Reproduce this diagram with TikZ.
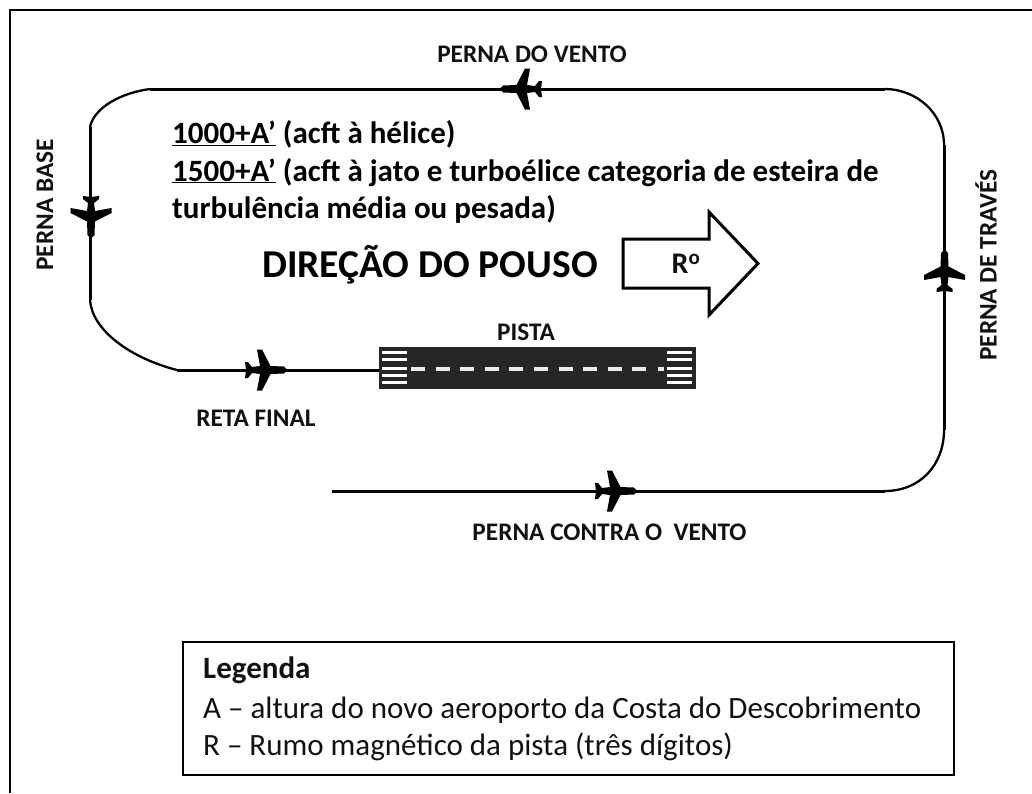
\documentclass[tikz,border=0pt]{standalone}
\usepackage{fontspec}
\setmainfont{Carlito}
\definecolor{ink}{HTML}{111111}
\tikzset{
  lab/.style={inner sep=0pt,text=ink,font=\fontsize{25.3}{30}\selectfont\bfseries},
  head/.style={inner sep=0pt,anchor=base west,text=black,font=\fontsize{31}{36}\selectfont\bfseries},
  big/.style={inner sep=0pt,anchor=base west,text=black,font=\fontsize{39.5}{46}\selectfont\bfseries},
  leg/.style={inner sep=0pt,anchor=base west,text=ink,font=\fontsize{31}{36}\selectfont},
  route/.style={draw=black,line width=3pt},
  turn/.style={draw=black,line width=2.3pt},
  stripe/.style={draw=white,line width=3pt},
  centerdash/.style={draw=white!92!black,line width=3.5pt},
  plane/.pic={
    \fill[black] (19,-1.5) -- (17,-3.5) -- (3.5,-4) -- (-5,-20.5) -- (-10,-20.5) -- (-7,-4)
      -- (-15,-3) -- (-19,-8) -- (-22,-8) -- (-21,0)
      -- (-22,8) -- (-19,8) -- (-15,3) -- (-7,4) -- (-10,20.5) -- (-5,20.5) -- (3.5,4)
      -- (17,3.5) -- (19,1.5) -- cycle;
  }
}
\begin{document}
\begin{tikzpicture}[x=1pt,y=-1pt]
\useasboundingbox (0,0) rectangle (1032,793);
\fill[white] (0,0) rectangle (1032,793);
% outer frame (only top and left are inside the image)
\coordinate (fb) at (10,793);
\coordinate (ft) at (10,9.5);
\coordinate (fr) at (1032,9.5);
\draw[line width=2pt,black] (fb) -- (ft) -- (fr);

% runway
\node[draw=none,fill=black!85,minimum width=317pt,minimum height=42pt,inner sep=0pt] (runway) at (537.5,368) {};
\foreach \yy in {352.3,359.3,368.7,375.7,382.3}{
  \draw[stripe] (382,\yy) -- (407,\yy);
  \draw[stripe] (667,\yy) -- (692,\yy);
}
\foreach \xx in {411,435.6,460.2,484.8,509.4,534,558.6,583.2,607.8,632.4}{
  \draw[centerdash] (\xx,369) -- ++(14,0);
}
\draw[centerdash] (657.5,369) -- (664,369);

% circuit
\coordinate (a1) at (944,145);
\coordinate (a2) at (885,89);
\coordinate (b1) at (150,89);
\coordinate (b2) at (90,127);
\coordinate (c1) at (90,300);
\coordinate (c2) at (177,370);
\coordinate (d1) at (944,430);
\coordinate (d2) at (885,491);
\coordinate (d3) at (332,491);
\draw[route] (a2) -- (b1);
\draw[turn] (b1) .. controls (120,93) and (94,108) .. (b2);
\draw[route] (b2) -- (c1);
\draw[turn] (c1) .. controls (92,330) and (130,358) .. (c2);
\draw[route] (c2) -- (runway.west |- c2);
\draw[turn] (a2) .. controls (915,89) and (944,112) .. (a1);
\draw[route] (a1) -- (d1);
\draw[turn] (d1) .. controls (944,465) and (920,491) .. (d2);
\draw[route] (d2) -- (d3);

% aircraft
\pic[rotate=180] at (520,89) {plane};
\pic[rotate=-90] at (91,218) {plane};
\pic at (267,370) {plane};
\pic[rotate=90] at (944.5,270) {plane};
\pic at (617,491) {plane};

% direction arrow
\draw[line width=3pt,black,line join=miter,fill=white]
  (623,239) -- (709,239) -- (709,212) -- (758,263.5) -- (709,315) -- (709,288) -- (623,288) -- cycle;
\node[lab,font=\fontsize{30}{34}\selectfont\bfseries] (rumo) at (686,264) {R\textsuperscript{o}};

% labels
\node[lab] (vento) at (532,54) {PERNA DO VENTO};
\node[lab,rotate=90] (base) at (45,205) {PERNA BASE};
\node[lab,rotate=90] (traves) at (986,265) {PERNA DE TRAVÉS};
\node[lab] (pista) at (526,332) {PISTA};
\node[lab] (final) at (256,418) {RETA FINAL};
\node[lab] (contra) at (609.5,532) {PERNA CONTRA O\ \ VENTO};

\node[head] (h1) at (172,143.5) {\underline{1000+A’} (acft à hélice)};
\node[head] (h2) at (172,181) {\underline{1500+A’} (acft à jato e turboélice categoria de esteira de};
\node[head] (h3) at (172,218) {turbulência média ou pesada)};
\node[big] (dir) at (262,277) {DIREÇÃO DO POUSO};

% legend
\node[draw=black,line width=1.6pt,minimum width=771pt,minimum height=133pt,inner sep=0pt] (legbox) at (568.5,708.5) {};
\node[leg,font=\fontsize{31}{36}\selectfont\bfseries] (l0) at (203,678) {Legenda};
\node[leg] (l1) at (203,718) {A – altura do novo aeroporto da Costa do Descobrimento};
\node[leg] (l2) at (203,755) {R – Rumo magnético da pista (três dígitos)};
\end{tikzpicture}
\end{document}
